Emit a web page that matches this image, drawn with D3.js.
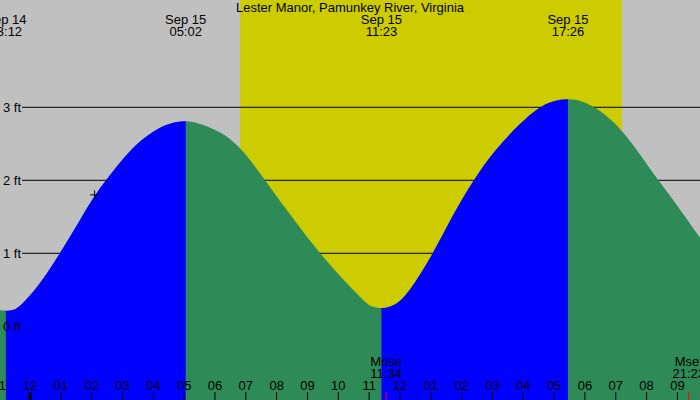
<!DOCTYPE html>
<html>
<head>
<meta charset="utf-8">
<script src="https://cdn.jsdelivr.net/npm/d3@7"></script>
<style>
  body { margin: 0; background: #fff; }
  svg { display: block; }
  text { font-family: "Liberation Sans", Arial, sans-serif; font-size: 13px; fill: #000; }
</style>
</head>
<body>
<div id="chart"></div>
<script>
// hours from midnight Sep 15, water level in feet
const tideHours = [-0.99, -0.795, -0.55, -0.34, 0.25, 0.96, 1.61, 2.09, 2.45, 2.96, 3.55, 4.2, 4.6, 5.033,
  5.5, 6.15, 6.8, 7.61, 8.47, 9.37, 10.36, 10.9, 11.05, 11.383,
  11.75, 12.2, 13.07, 13.66, 14.36, 15.07, 15.88, 16.47, 16.95, 17.433,
  17.92, 18.48, 19.18, 19.83, 20.36, 21.01, 21.72];
const tideFeet = [0.22, 0.21, 0.22, 0.27, 0.54, 1.0, 1.46, 1.8, 2.0, 2.28, 2.55, 2.73, 2.79, 2.82,
  2.78, 2.67, 2.47, 2.0, 1.5, 1.0, 0.54, 0.31, 0.27, 0.24,
  0.27, 0.41, 1.0, 1.5, 2.0, 2.42, 2.78, 3.0, 3.09, 3.12,
  3.09, 2.96, 2.7, 2.32, 2.0, 1.64, 1.21];

// high / low tides
const eventDays = ["Sep 14", "Sep 15", "Sep 15", "Sep 15"];
const eventTimes = ["23:12", "05:02", "11:23", "17:26"];
const eventDayOffset = [-1, 0, 0, 0];

// daylight
const sunTimes = ["06:48", "19:11"];

// moon
const moonLabels = ["Mrise", "Mset"];
const moonTimes = ["11:34", "21:23"];

const feetTicks = [0, 1, 2, 3];
const hourTicks = d3.range(-1, 23);

// current reading marker
const nowHour = 2.08, nowFeet = 1.8;

const title = "Lester Manor, Pamunkey River, Virginia";

const width = 700, height = 400;

function toHours(s, dayOff) {
  const p = s.split(":");
  return (dayOff || 0) * 24 + (+p[0]) + (+p[1]) / 60;
}

const x = d3.scaleLinear().domain([0, 24]).range([30.5, 30.5 + 24 * 30.83]);
const y = d3.scaleLinear().domain([0, 3]).range([326.3, 107.3]);

const svg = d3.select("#chart").append("svg")
  .attr("width", width).attr("height", height);

svg.append("rect").attr("width", width).attr("height", height).attr("fill", "#c0c0c0");

// daylight
const sunrise = toHours(sunTimes[0]), sunset = toHours(sunTimes[1]);
svg.append("rect")
  .attr("x", x(sunrise)).attr("y", 0)
  .attr("width", x(sunset) - x(sunrise)).attr("height", height)
  .attr("fill", "#cccc00");

// grid lines
svg.append("g").selectAll("line").data(feetTicks).enter().append("line")
  .attr("x1", 22).attr("x2", width)
  .attr("y1", d => y(d)).attr("y2", d => y(d))
  .attr("stroke", "#000").attr("stroke-width", 1);

// tide fill
const pts = tideHours.map((h, i) => [h, tideFeet[i]]);
const area = d3.area()
  .x(d => x(d[0]))
  .y0(height)
  .y1(d => y(d[1]))
  .curve(d3.curveBasis);

svg.append("path").datum(pts).attr("d", area).attr("fill", "#2e8b57");

const evH = eventTimes.map((t, i) => toHours(t, eventDayOffset[i]));
const defs = svg.append("defs");
// rising stretches: low -> high
[[evH[0], evH[1]], [evH[2], evH[3]]].forEach((r, i) => {
  defs.append("clipPath").attr("id", "rise" + i)
    .append("rect")
    .attr("x", x(r[0])).attr("y", 0)
    .attr("width", x(r[1]) - x(r[0])).attr("height", height);
  svg.append("path").datum(pts).attr("d", area)
    .attr("fill", "#0000ff")
    .attr("clip-path", "url(#rise" + i + ")");
});

// y labels
svg.append("g").selectAll("text").data(feetTicks).enter().append("text")
  .attr("x", 3).attr("y", d => y(d) + 5)
  .text(d => d + " ft");

// title
svg.append("text").attr("x", width / 2).attr("y", 12)
  .attr("text-anchor", "middle").text(title);

// tide event labels
const ev = svg.append("g").selectAll("g").data(evH).enter().append("g")
  .attr("transform", d => "translate(" + x(d) + ",0)")
  .attr("text-anchor", "middle");
ev.append("text").attr("y", 24).text((d, i) => eventDays[i]);
ev.append("text").attr("y", 36).text((d, i) => eventTimes[i]);

// hour axis
const axis = d3.axisTop(x)
  .tickValues(hourTicks)
  .tickSize(8)
  .tickPadding(2)
  .tickFormat(h => {
    const v = ((h % 12) + 12) % 12;
    return d3.format("02")(v === 0 ? 12 : v);
  });
const ax = svg.append("g")
  .attr("transform", "translate(-1," + height + ")")
  .call(axis);
ax.select(".domain").remove();
ax.selectAll("line").attr("stroke", "#000");
ax.selectAll("text")
  .style("font-family", "'Liberation Sans', Arial, sans-serif")
  .style("font-size", "13px")
  .attr("fill", "#000");
ax.selectAll(".tick").filter(d => d === 0).select("line").attr("stroke-width", 3);

// moon rise / set
const mh = moonTimes.map(t => toHours(t));
const moon = svg.append("g").selectAll("g").data(mh).enter().append("g")
  .attr("transform", d => "translate(" + (x(d) - 1) + ",0)");
moon.append("line")
  .attr("y1", height - 8).attr("y2", height)
  .attr("stroke", "#ff0000").attr("stroke-width", 1);
moon.append("text").attr("text-anchor", "middle").attr("y", 366).text((d, i) => moonLabels[i]);
moon.append("text").attr("text-anchor", "middle").attr("y", 378).text((d, i) => moonTimes[i]);

// current reading cross
const cross = svg.append("g")
  .attr("transform", "translate(" + x(nowHour) + "," + y(nowFeet) + ")");
cross.append("line").attr("x1", -4.5).attr("x2", 4.5).attr("stroke", "#000");
cross.append("line").attr("y1", -4.5).attr("y2", 4.5).attr("stroke", "#000");
</script>
</body>
</html>
